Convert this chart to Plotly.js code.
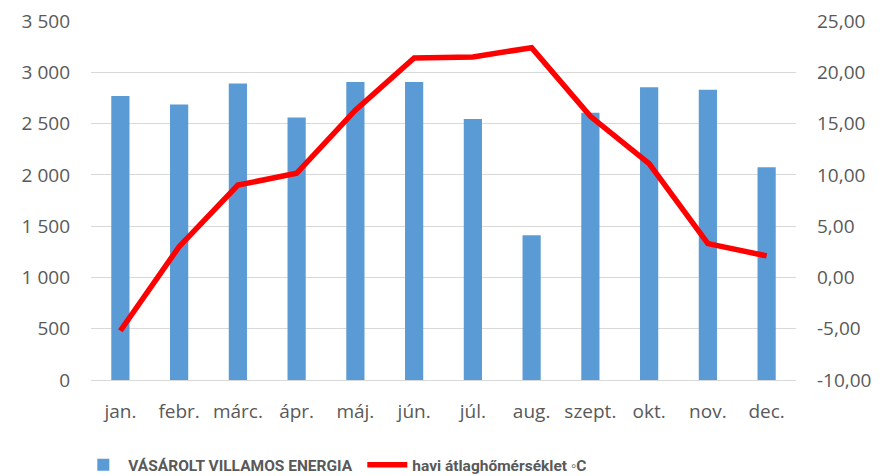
<!DOCTYPE html>
<html>
<head>
<meta charset="utf-8">
<script src="https://cdn.plot.ly/plotly-3.0.1.min.js"></script>
<style>
  html, body { margin: 0; padding: 0; background: #fff; }
  #chart { width: 887px; height: 476px; }
</style>
</head>
<body>
<div id="chart"></div>
<script>
// months and series
const months = ["jan.", "febr.", "márc.", "ápr.", "máj.", "jún.", "júl.", "aug.", "szept.", "okt.", "nov.", "dec."];
const energy = [2770, 2685, 2890, 2560, 2905, 2905, 2545, 1410, 2605, 2855, 2830, 2075];
const temperature = [-5.2, 3.0, 9.0, 10.15, 16.3, 21.4, 21.5, 22.4, 15.7, 11.1, 3.3, 2.1];

const energyTicks = [0, 500, 1000, 1500, 2000, 2500, 3000, 3500];
const energyTickText = ["0", "500", "1 000", "1 500", "2 000", "2 500", "3 000", "3 500"];
const tempTicks = [-10, -5, 0, 5, 10, 15, 20, 25];
const tempTickText = ["-10,00", "-5,00", "0,00", "5,00", "10,00", "15,00", "20,00", "25,00"];

const tickFont = { family: "'Open Sans', sans-serif", size: 19, color: "#595959" };

Plotly.newPlot("chart", [
  {
    x: months,
    y: energy,
    type: "bar",
    name: "VÁSÁROLT VILLAMOS ENERGIA",
    marker: { color: "#5b9bd5" },
    width: 0.31
  },
  {
    x: months,
    y: temperature,
    type: "scatter",
    mode: "lines",
    yaxis: "y2",
    name: "havi átlaghőmérséklet ◦C",
    line: { color: "#ff0000", width: 5.5 }
  }
], {
  width: 887,
  height: 476,
  paper_bgcolor: "#ffffff",
  plot_bgcolor: "#ffffff",
  margin: { t: 21, r: 91, b: 96, l: 91, autoexpand: false },
  font: tickFont,
  showlegend: true,
  legend: {
    orientation: "h",
    x: -0.018,
    xanchor: "left",
    y: -0.237,
    yanchor: "middle",
    font: { family: "Roboto, sans-serif", size: 15.5, color: "#595959", weight: "bold" },
    itemwidth: 40,
    entrywidth: 229,
    traceorder: "normal"
  },
  xaxis: {
    type: "category",
    showgrid: false,
    showline: true,
    linecolor: "#d9d9d9",
    linewidth: 1.3,
    ticks: "",
    ticklabelstandoff: 14,
    tickfont: tickFont
  },
  yaxis: {
    range: [0, 3500],
    tickmode: "array",
    tickvals: energyTicks,
    ticktext: energyTickText,
    gridcolor: "#d9d9d9",
    gridwidth: 1.3,
    zeroline: false,
    ticks: "",
    ticklabelstandoff: 20,
    tickfont: tickFont
  },
  yaxis2: {
    overlaying: "y",
    side: "right",
    range: [-10, 25],
    tickmode: "array",
    tickvals: tempTicks,
    ticktext: tempTickText,
    showgrid: false,
    zeroline: false,
    ticks: "",
    ticklabelstandoff: 20,
    tickfont: tickFont
  }
}, { displayModeBar: false, responsive: false });
</script>
</body>
</html>
